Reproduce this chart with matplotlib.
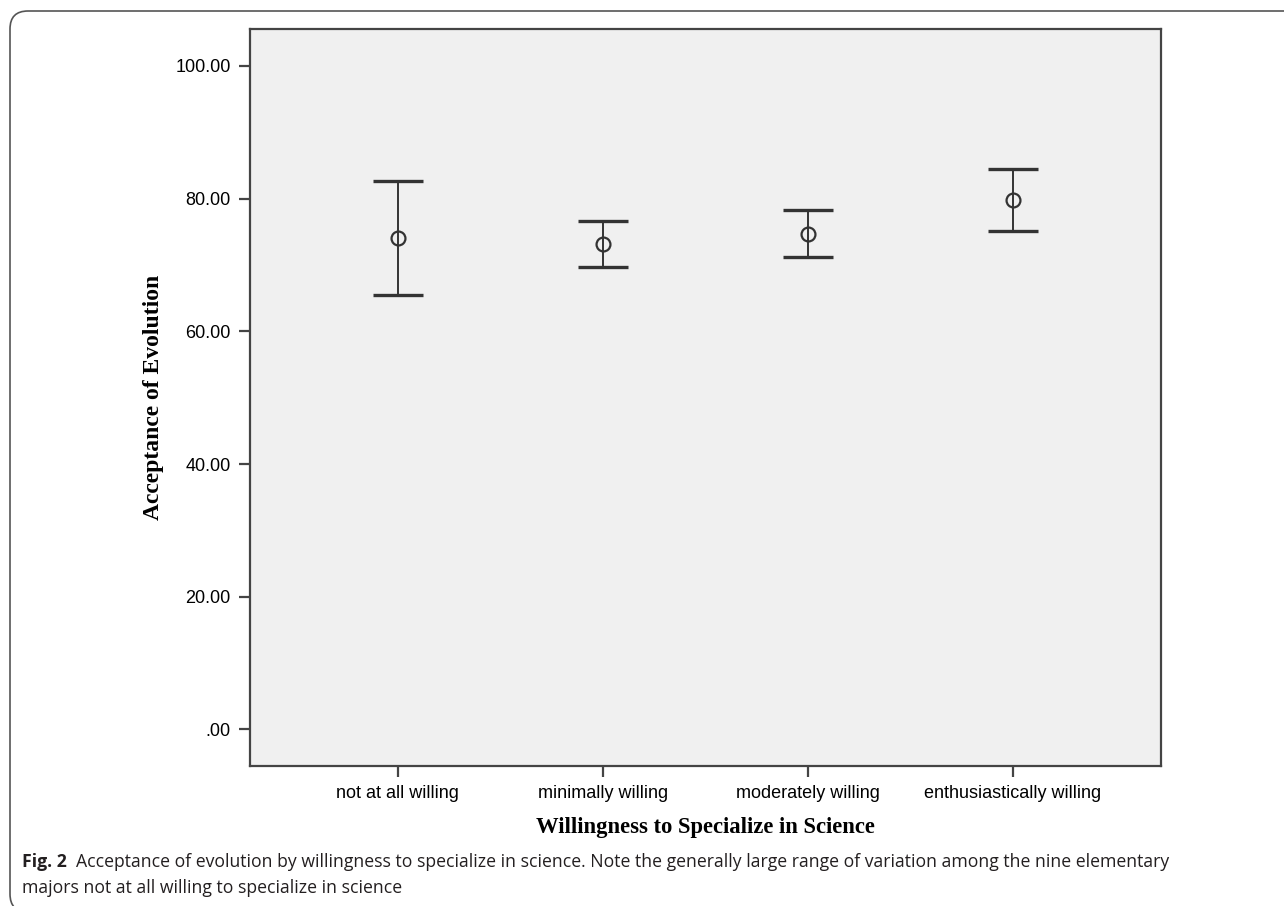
import numpy as np
import matplotlib.pyplot as plt
from matplotlib.patches import FancyBboxPatch

categories = ["not at all willing", "minimally willing",
              "moderately willing", "enthusiastically willing"]
means = [74.03, 73.13, 74.63, 79.80]
lower = [65.49, 69.71, 71.17, 75.13]
upper = [82.62, 76.59, 78.25, 84.52]
yticks = [0, 20, 40, 60, 80, 100]
ytick_labels = [".00", "20.00", "40.00", "60.00", "80.00", "100.00"]

W, H = 1284, 906
fig = plt.figure(figsize=(W / 100, H / 100), dpi=100)

# rounded figure frame (open to the right/bottom like the page crop)
frame = FancyBboxPatch((10 / W, 1 - 912 / H), 1400 / W, (912 - 11) / H,
                       boxstyle="round,pad=0,rounding_size=0.014",
                       transform=fig.transFigure, fill=False,
                       ec="#555555", lw=1.2, mutation_aspect=W / H)
fig.patches.append(frame)

ax = fig.add_axes([250 / W, 1 - 766 / H, (1160.7 - 250) / W, (766 - 29.3) / H])
ax.set_facecolor("#f0f0f0")

x = np.arange(len(categories))
m = np.array(means)
yerr = [m - np.array(lower), np.array(upper) - m]

_, caps, bars = ax.errorbar(x, m, yerr=yerr, fmt="none", ecolor="#333333",
                            elinewidth=1.4, capsize=18, capthick=2.4)
for c in caps:
    c.set_color("#5c5c5c")
ax.plot(x, m, "o", ms=10, mfc="none", mec="#333333", mew=1.6, zorder=5)

ax.set_xlim(-0.72, 3.72)
ax.set_ylim(-5.5, 105.5)
ax.set_xticks(x)
ax.set_xticklabels(categories)
ax.set_yticks(yticks)
ax.set_yticklabels(ytick_labels)

for s in ax.spines.values():
    s.set_color("#444444")
    s.set_linewidth(1.6)
ax.tick_params(axis="both", length=8, width=1.6, color="#444444",
               labelsize=13, pad=6)
for lab in ax.get_xticklabels() + ax.get_yticklabels():
    lab.set_family("Liberation Sans")

fig.text(154 / W, 1 - 397 / H, "Acceptance of Evolution", rotation=90,
         ha="center", va="center", family="Liberation Serif",
         weight="bold", fontsize=17)
fig.text(705 / W, 1 - 827 / H, "Willingness to Specialize in Science",
         ha="center", va="center", family="Liberation Serif",
         weight="bold", fontsize=16.3)

cap1 = ("Acceptance of evolution by willingness to specialize in science. "
        "Note the generally large range of variation among the nine elementary")
cap2 = "majors not at all willing to specialize in science"
t = fig.text(22 / W, 1 - 862 / H, "Fig. 2", ha="left", va="center",
             family="Open Sans", weight="bold", fontsize=12.7, color="#231f20")
fig.canvas.draw()
bb = t.get_window_extent()
fig.text((bb.x1 + 9) / W, 1 - 862 / H, cap1, ha="left", va="center",
         family="Open Sans", fontsize=12.7, color="#231f20")
fig.text(22 / W, 1 - 888 / H, cap2, ha="left", va="center",
         family="Open Sans", fontsize=12.7, color="#231f20")

fig.savefig("out.png", dpi=100)
